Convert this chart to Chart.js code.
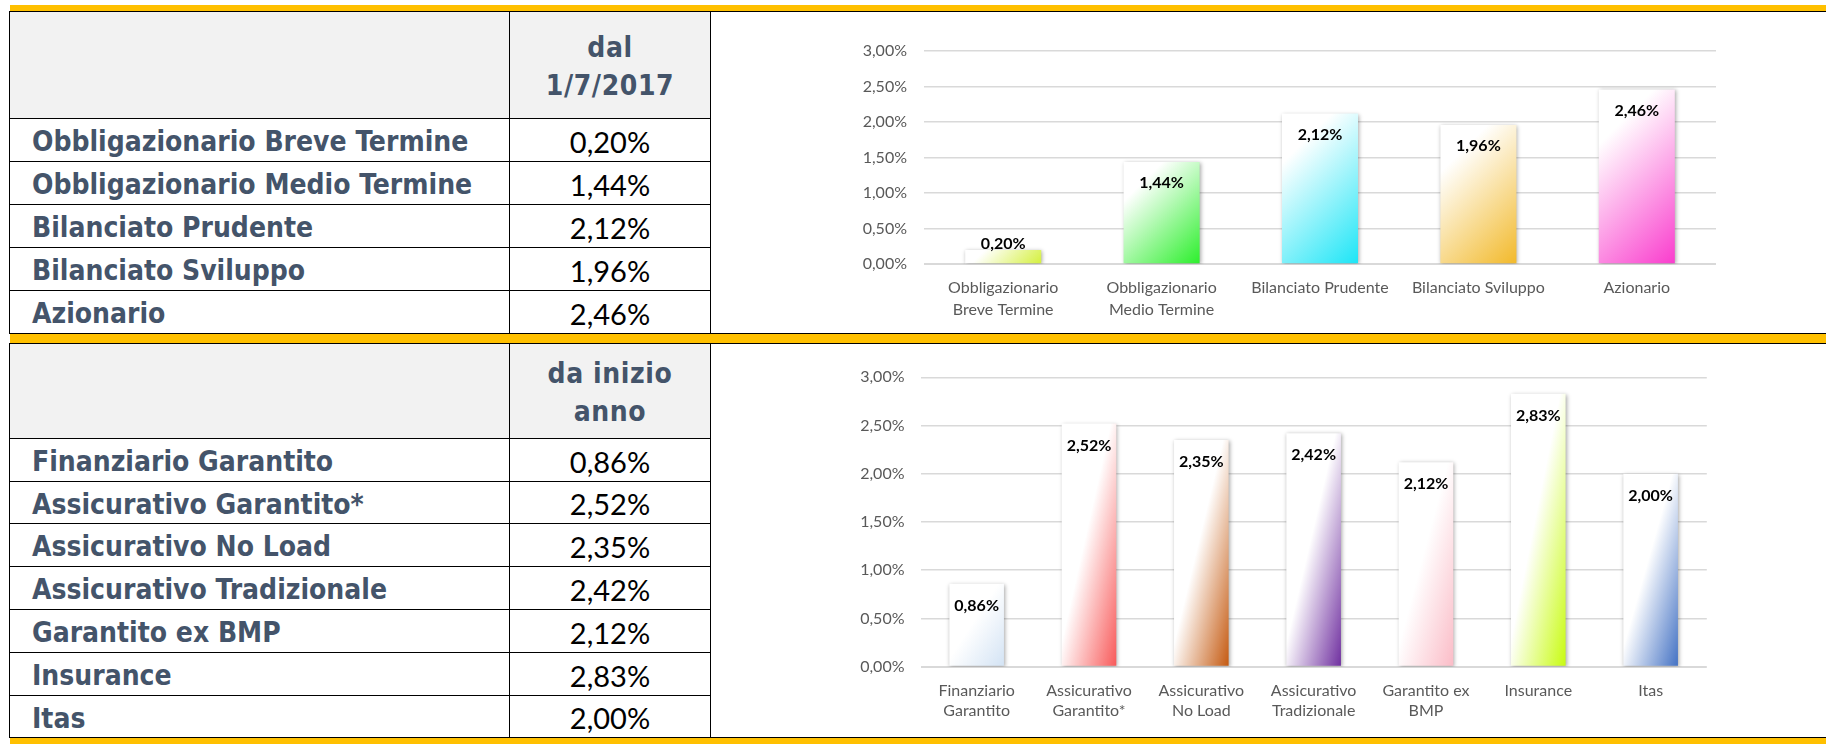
<!DOCTYPE html>
<html lang="it">

<head>
    <meta charset="UTF-8">
    <title>Rendimenti comparti</title>
    <style>
        body {
            margin: 0;
            width: 1826px;
            height: 744px;
            position: relative;
            overflow: hidden;
            background: #fff;
        }

        .band {
            position: absolute;
            left: 10px;
            right: 0;
            background: #ffc000;
        }

        .rule {
            position: absolute;
            left: 9px;
            right: 0;
            height: 1px;
            background: #000;
        }

        .grid {
            position: absolute;
            left: 9px;
            display: grid;
            grid-template-columns: 499px 200px;
            gap: 1px;
            padding: 1px;
            background: #000;
        }

        .grid div {
            background: #fff;
            display: flex;
            align-items: center;
            color: #44546a;
            font-family: "DejaVu Sans Condensed", "DejaVu Sans", sans-serif;
            font-stretch: condensed;
            font-weight: bold;
            font-size: 28px;
        }

        .grid div.head {
            background: #f2f2f2;
            justify-content: center;
            text-align: center;
            line-height: 38px;
            letter-spacing: 0.6px;
            padding-top: 3px;
        }

        .grid div.name {
            padding-left: 22px;
            padding-top: 3px;
        }

        .grid div.val {
            justify-content: center;
            color: #000;
            font-family: "Lato", sans-serif;
            font-weight: normal;
            font-size: 29px;
            padding-top: 2px;
        }

        canvas {
            position: absolute;
            left: 711px;
        }
    </style>
    <script src="https://cdn.jsdelivr.net/npm/chart.js"></script>
</head>

<body>

    <div class="band" style="top:5px;height:6px"></div>
    <div class="rule" style="top:11px"></div>
    <div class="rule" style="top:333px"></div>
    <div class="band" style="top:334px;height:9px"></div>
    <div class="rule" style="top:343px"></div>
    <div class="rule" style="top:737px"></div>
    <div class="band" style="top:738px;height:6px"></div>

    <div class="grid" id="table1" style="top:11px;grid-template-rows:106px repeat(5, 42px)"></div>
    <div class="grid" id="table2" style="top:343px;grid-template-rows:94px 42px 41px 42px 42px 42px 42px 41px"></div>

    <canvas id="chart1" width="1115" height="321" style="top:12px"></canvas>
    <canvas id="chart2" width="1115" height="393" style="top:344px"></canvas>

    <script>
        // --- data: rendimenti dal 1/7/2017 ---
        const header1 = ["dal", "1/7/2017"];
        const categories1 = ["Obbligazionario Breve Termine", "Obbligazionario Medio Termine",
            "Bilanciato Prudente", "Bilanciato Sviluppo", "Azionario"];
        const axisLabels1 = [["Obbligazionario", "Breve Termine"], ["Obbligazionario", "Medio Termine"],
            "Bilanciato Prudente", "Bilanciato Sviluppo", "Azionario"];
        const values1 = [0.20, 1.44, 2.12, 1.96, 2.46];
        const colors1 = ["#d4f03c", "#2bef2b", "#1ce5f6", "#f2b92a", "#fa3ccd"];

        // --- data: rendimenti da inizio anno ---
        const header2 = ["da inizio", "anno"];
        const categories2 = ["Finanziario Garantito", "Assicurativo Garantito*", "Assicurativo No Load",
            "Assicurativo Tradizionale", "Garantito ex BMP", "Insurance", "Itas"];
        const axisLabels2 = [["Finanziario", "Garantito"], ["Assicurativo", "Garantito*"], ["Assicurativo", "No Load"],
            ["Assicurativo", "Tradizionale"], ["Garantito ex", "BMP"], "Insurance", "Itas"];
        const values2 = [0.86, 2.52, 2.35, 2.42, 2.12, 2.83, 2.00];
        const colors2 = ["#d3e3f4", "#f85a5a", "#c55a11", "#7030a0", "#fbbcc7", "#c8fb10", "#4472c4"];

        // y axis ticks
        const yMin = 0;
        const yMax = 3;
        const yStep = 0.5;

        const pct = v => v.toFixed(2).replace(".", ",") + "%";

        function fillTable(id, header, names, values) {
            const t = document.getElementById(id);
            let html = `<div class="head"></div><div class="head">${header.join("<br>")}</div>`;
            names.forEach((n, i) => {
                html += `<div class="name">${n}</div><div class="val">${pct(values[i])}</div>`;
            });
            t.innerHTML = html;
        }
        fillTable("table1", header1, categories1, values1);
        fillTable("table2", header2, categories2, values2);

        // bar gradient: white top-left -> colour bottom-right
        function barGradient(c, colors, barPct, scaled, whiteStop) {
            const chart = c.chart;
            const area = chart.chartArea;
            const col = colors[c.dataIndex];
            if (!area || c.type !== "data") return col;
            const xs = chart.scales.x, ys = chart.scales.y;
            const n = chart.data.labels.length;
            const w = (area.right - area.left) / n * barPct;
            const left = xs.getPixelForValue(c.dataIndex) - w / 2;
            const top = ys.getPixelForValue(c.raw);
            const h = ys.getPixelForValue(0) - top;
            let g;
            if (scaled) {
                // gradient stretched with the bar shape
                const k = 2 * w * h / (h * h + w * w);
                g = chart.ctx.createLinearGradient(left, top, left + h * k, top + w * k);
            } else {
                const d = (w + h) / 2;
                g = chart.ctx.createLinearGradient(left, top, left + d, top + d);
            }
            g.addColorStop(0, "#ffffff");
            g.addColorStop(whiteStop, "#ffffff");
            g.addColorStop(1, col);
            return g;
        }

        const barShadow = {
            id: "barShadow",
            beforeDatasetDraw(chart) {
                const ctx = chart.ctx;
                ctx.save();
                ctx.shadowColor = "rgba(0,0,0,0.35)";
                ctx.shadowBlur = 4;
                ctx.shadowOffsetX = 1;
                ctx.shadowOffsetY = 1;
            },
            afterDatasetDraw(chart) {
                chart.ctx.restore();
            }
        };

        const valueLabels = {
            id: "valueLabels",
            afterDatasetsDraw(chart, args, opts) {
                const ctx = chart.ctx;
                const meta = chart.getDatasetMeta(0);
                ctx.save();
                ctx.font = "bold 16px Lato";
                ctx.fillStyle = "#000";
                ctx.textAlign = "center";
                ctx.textBaseline = "middle";
                meta.data.forEach((bar, i) => {
                    const y = Math.min(bar.y + opts.offset, bar.base - 19);
                    ctx.fillText(pct(chart.data.datasets[0].data[i]), bar.x, y);
                });
                ctx.restore();
            }
        };

        function makeChart(id, labels, values, colors, o) {
            return new Chart(document.getElementById(id), {
                type: "bar",
                data: {
                    labels: labels,
                    datasets: [{
                        data: values,
                        backgroundColor: c => barGradient(c, colors, o.barPct, o.scaled, o.whiteStop),
                        borderWidth: 0,
                        categoryPercentage: 1,
                        barPercentage: o.barPct
                    }]
                },
                plugins: [barShadow, valueLabels],
                options: {
                    responsive: false,
                    animation: false,
                    layout: { padding: { top: o.padTop, right: o.padRight, left: 0, bottom: 0 } },
                    plugins: {
                        legend: { display: false },
                        tooltip: { enabled: false },
                        valueLabels: { offset: o.labelOffset }
                    },
                    scales: {
                        x: {
                            grid: { display: false, drawTicks: false },
                            border: { display: false },
                            ticks: {
                                color: "#595959",
                                font: { family: "Lato", size: 16, lineHeight: o.lineHeight },
                                padding: o.xPad,
                                maxRotation: 0,
                                autoSkip: false
                            },
                            afterFit: s => { s.height = o.xHeight; }
                        },
                        y: {
                            min: yMin,
                            max: yMax,
                            grid: {
                                color: "#d9d9d9",
                                lineWidth: c => (c.tick && c.tick.value === 0 ? 2 : 1.5),
                                drawTicks: false
                            },
                            border: { display: false },
                            ticks: {
                                stepSize: yStep,
                                color: "#595959",
                                font: { family: "Lato", size: 16 },
                                padding: o.yPad,
                                callback: v => pct(v)
                            },
                            afterFit: s => { s.width = o.yWidth; }
                        }
                    }
                }
            });
        }

        makeChart("chart1", axisLabels1, values1, colors1, {
            barPct: 0.48, scaled: false, whiteStop: 0.22, labelOffset: 21,
            padTop: 39, padRight: 110, yWidth: 213, yPad: 17,
            xHeight: 68.7, xPad: 13, lineHeight: 1.375
        });

        makeChart("chart2", axisLabels2, values2, colors2, {
            barPct: 0.486, scaled: true, whiteStop: 0.45, labelOffset: 22,
            padTop: 33.3, padRight: 119.2, yWidth: 209.5, yPad: 16,
            xHeight: 70.3, xPad: 14, lineHeight: 1.25
        });
    </script>
</body>

</html>
